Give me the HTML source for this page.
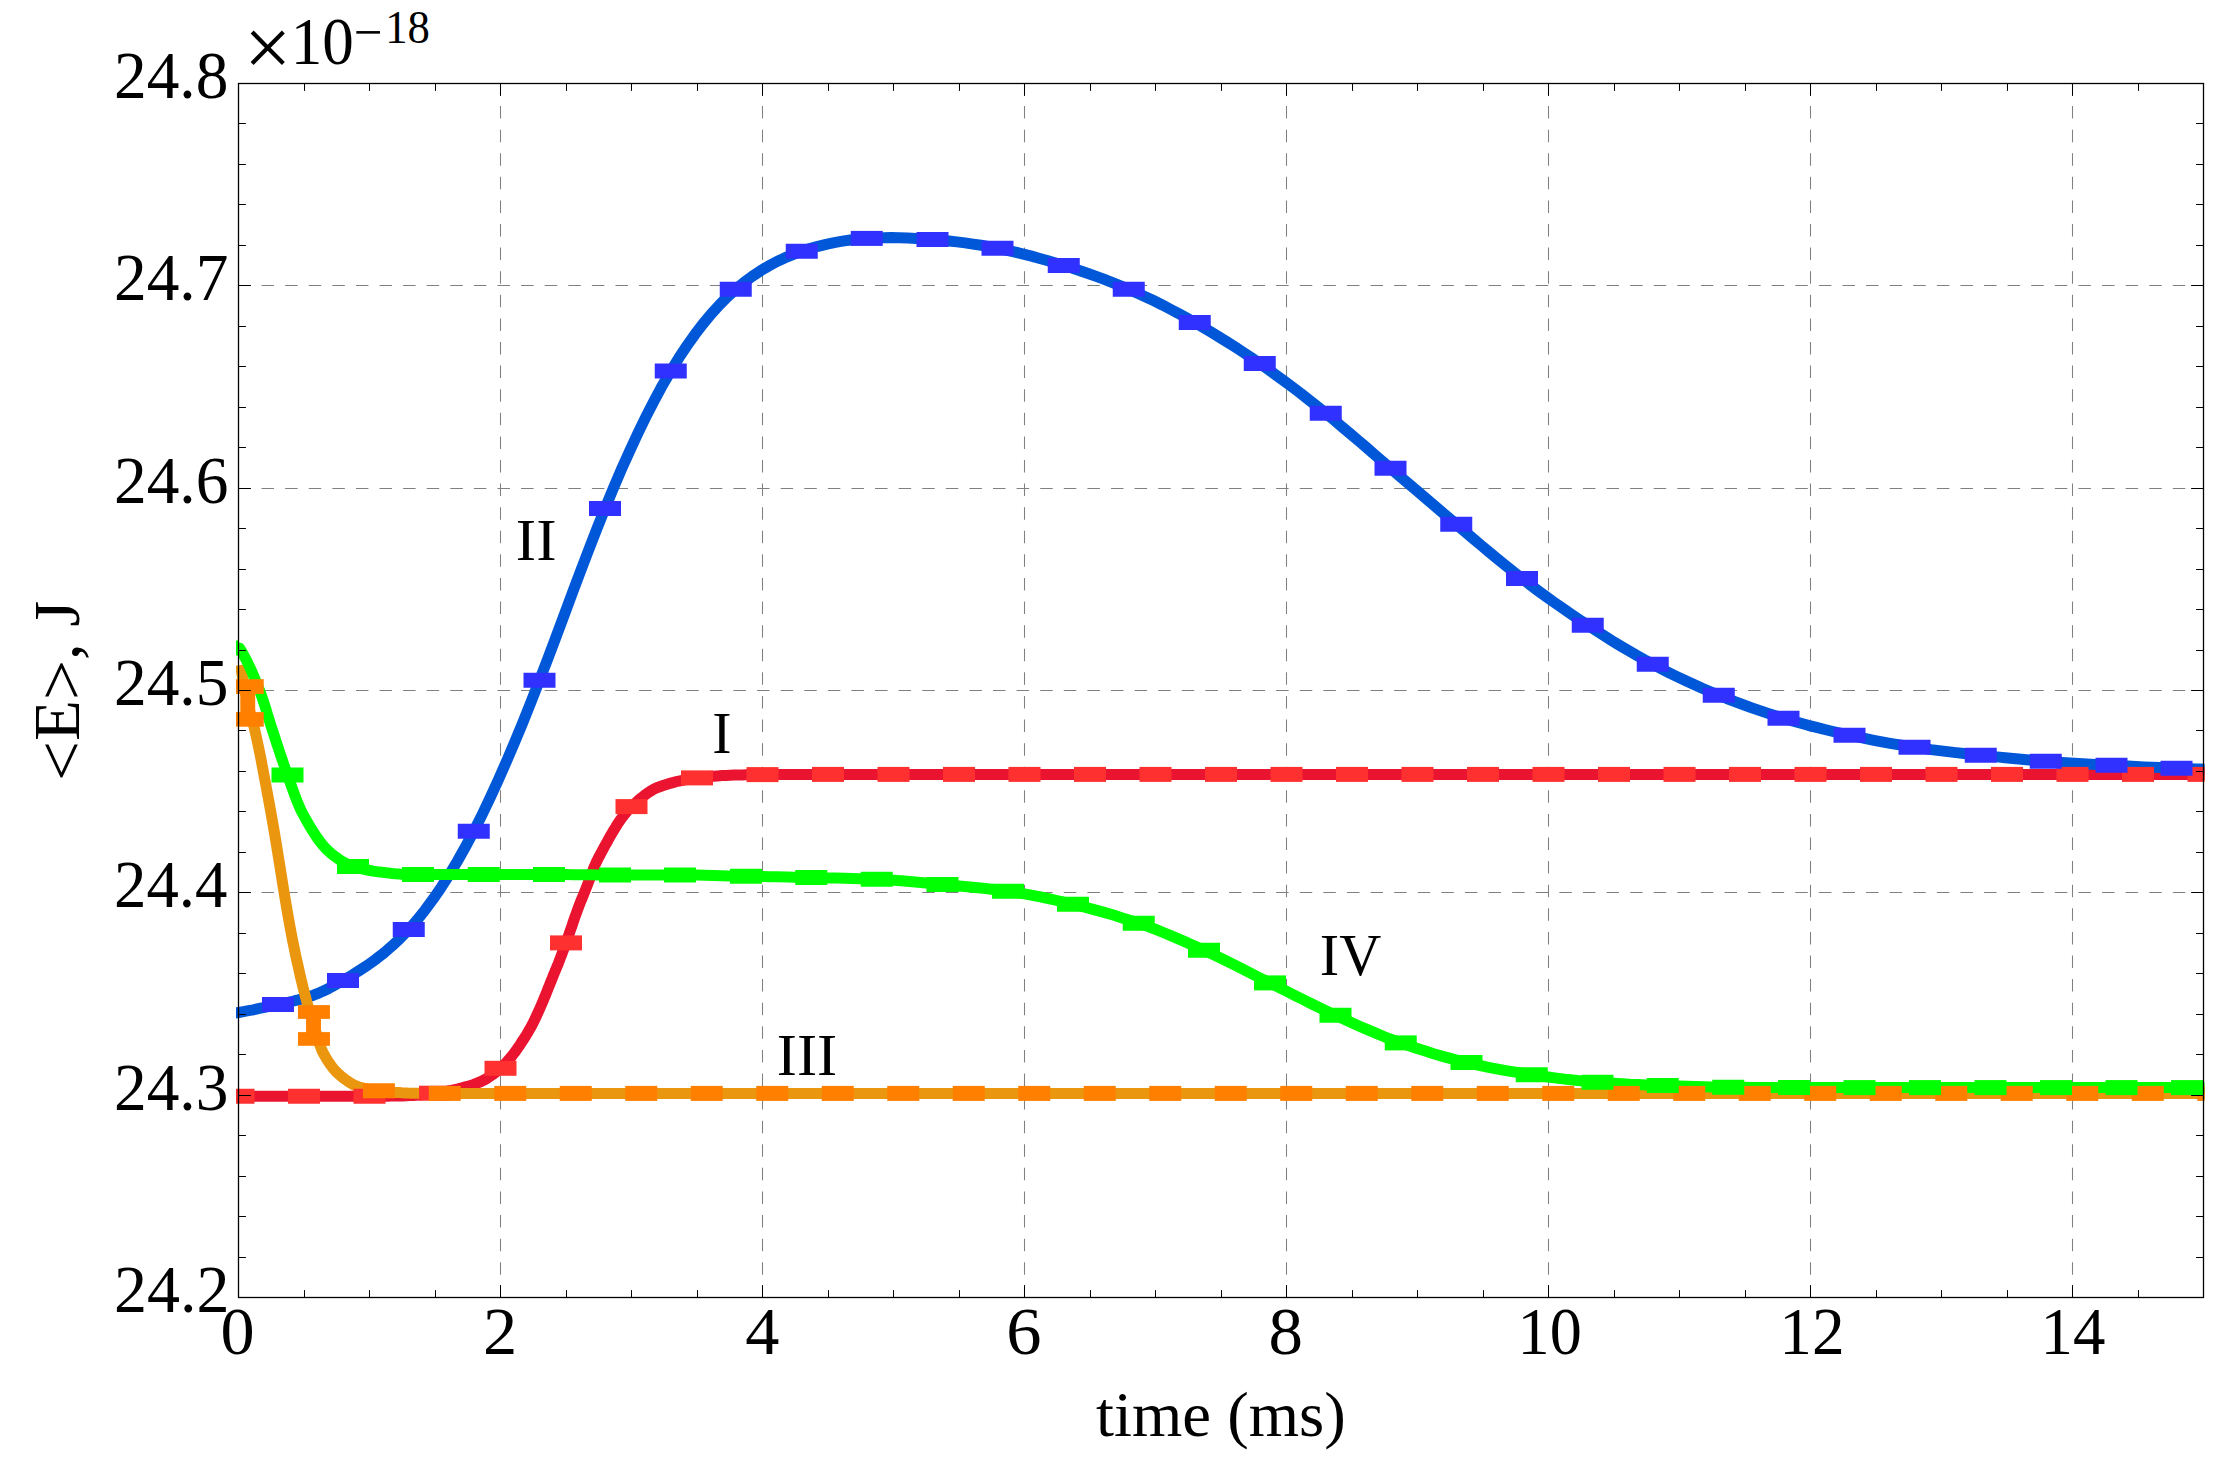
<!DOCTYPE html>
<html lang="en">
<head>
<meta charset="utf-8">
<title>&lt;E&gt;, J versus time (ms)</title>
<style>
html,body{margin:0;padding:0;background:#fff;}
body{width:2230px;height:1469px;overflow:hidden;}
svg{display:block;}
text{font-family:"Liberation Serif",serif;fill:#000;}
.tick{font-size:67px;}
.lab{font-size:56px;}
</style>
</head>
<body>
<svg width="2230" height="1469" viewBox="0 0 2230 1469">
<rect x="0" y="0" width="2230" height="1469" fill="#ffffff"/>
<defs><clipPath id="clip"><rect x="236" y="60" width="1968.6" height="1260"/></clipPath></defs>

<g stroke="#808080" stroke-width="1.05" stroke-dasharray="12.5 11.096" fill="none">
<line x1="500.50" y1="83.5" x2="500.50" y2="1297.5" stroke-dashoffset="1.06"/>
<line x1="762.50" y1="83.5" x2="762.50" y2="1297.5" stroke-dashoffset="1.06"/>
<line x1="1024.50" y1="83.5" x2="1024.50" y2="1297.5" stroke-dashoffset="1.06"/>
<line x1="1286.50" y1="83.5" x2="1286.50" y2="1297.5" stroke-dashoffset="1.06"/>
<line x1="1548.50" y1="83.5" x2="1548.50" y2="1297.5" stroke-dashoffset="1.06"/>
<line x1="1810.50" y1="83.5" x2="1810.50" y2="1297.5" stroke-dashoffset="1.06"/>
<line x1="2072.50" y1="83.5" x2="2072.50" y2="1297.5" stroke-dashoffset="1.06"/>
<line x1="238.5" y1="1095.50" x2="2203.5" y2="1095.50" stroke-dashoffset="0.56"/>
<line x1="238.5" y1="892.50" x2="2203.5" y2="892.50" stroke-dashoffset="0.56"/>
<line x1="238.5" y1="690.50" x2="2203.5" y2="690.50" stroke-dashoffset="0.56"/>
<line x1="238.5" y1="488.50" x2="2203.5" y2="488.50" stroke-dashoffset="0.56"/>
<line x1="238.5" y1="285.50" x2="2203.5" y2="285.50" stroke-dashoffset="0.56"/>
</g>
<g clip-path="url(#clip)" fill="none" stroke-linejoin="round">
<path d="M225.0,1096.2 L234.4,1096.2 L243.8,1096.2 L253.1,1096.2 L262.5,1096.2 L271.9,1096.2 L281.2,1096.2 L290.6,1096.2 L300.0,1096.2 L310.0,1096.2 L320.0,1096.2 L330.0,1096.2 L340.0,1096.2 L350.0,1096.2 L360.0,1096.2 L370.0,1096.2 L380.0,1096.2 L383.8,1096.2 L387.5,1096.2 L391.2,1096.1 L395.0,1096.1 L398.8,1096.0 L402.5,1095.9 L406.2,1095.7 L410.0,1095.6 L413.1,1095.5 L416.2,1095.2 L419.4,1095.0 L422.5,1094.7 L425.6,1094.3 L428.8,1094.0 L431.9,1093.6 L435.0,1093.2 L437.5,1092.9 L440.0,1092.5 L442.5,1092.1 L445.0,1091.6 L447.5,1091.1 L450.0,1090.6 L452.5,1090.1 L455.0,1089.5 L458.1,1088.8 L461.2,1088.0 L464.4,1087.2 L467.5,1086.4 L470.6,1085.4 L473.8,1084.4 L476.9,1083.2 L480.0,1082.0 L482.5,1080.8 L485.1,1079.5 L487.6,1078.0 L490.1,1076.3 L492.7,1074.5 L495.2,1072.6 L497.7,1070.6 L500.2,1068.5 L501.9,1067.0 L503.5,1065.4 L505.2,1063.7 L506.8,1061.9 L508.5,1060.0 L510.1,1058.1 L511.8,1056.1 L513.4,1054.0 L514.5,1052.6 L515.5,1051.2 L516.6,1049.7 L517.7,1048.1 L518.8,1046.6 L519.9,1045.0 L520.9,1043.3 L522.0,1041.7 L523.2,1039.8 L524.5,1037.9 L525.7,1036.0 L526.9,1034.0 L528.1,1031.9 L529.3,1029.8 L530.6,1027.7 L531.8,1025.4 L533.2,1022.7 L534.6,1019.8 L536.0,1016.8 L537.5,1013.7 L538.9,1010.6 L540.3,1007.3 L541.7,1004.1 L543.1,1000.8 L544.3,997.9 L545.6,994.9 L546.8,991.8 L548.0,988.7 L549.3,985.6 L550.5,982.5 L551.8,979.4 L553.0,976.3 L553.8,974.3 L554.6,972.3 L555.5,970.2 L556.3,968.2 L557.1,966.2 L558.0,964.2 L558.8,962.1 L559.6,960.0 L560.4,957.9 L561.2,955.8 L562.0,953.7 L562.8,951.6 L563.6,949.5 L564.4,947.3 L565.2,945.1 L566.0,942.9 L567.4,938.9 L568.9,934.7 L570.3,930.5 L571.8,926.3 L573.2,922.1 L574.6,917.9 L576.1,913.8 L577.5,909.9 L578.7,906.7 L579.9,903.6 L581.1,900.5 L582.4,897.5 L583.6,894.5 L584.8,891.5 L586.0,888.5 L587.2,885.4 L588.2,882.8 L589.2,880.2 L590.2,877.5 L591.2,874.8 L592.1,872.2 L593.1,869.6 L594.1,867.2 L595.1,864.9 L596.4,862.0 L597.7,859.3 L599.0,856.7 L600.4,854.2 L601.7,851.7 L603.0,849.3 L604.3,846.9 L605.6,844.5 L606.8,842.4 L608.0,840.3 L609.1,838.2 L610.3,836.1 L611.5,834.1 L612.6,832.1 L613.8,830.1 L615.0,828.2 L615.7,827.1 L616.3,826.0 L617.0,825.0 L617.6,823.9 L618.3,822.9 L619.0,821.9 L619.6,820.9 L620.3,820.0 L621.7,818.1 L623.1,816.2 L624.5,814.4 L625.9,812.7 L627.3,811.0 L628.7,809.4 L630.1,808.0 L631.5,806.6 L634.9,803.5 L638.2,800.5 L641.5,797.7 L644.9,795.0 L648.2,792.6 L651.6,790.5 L654.9,788.6 L658.3,787.2 L663.1,785.5 L668.0,783.9 L672.8,782.6 L677.6,781.3 L682.5,780.3 L687.3,779.3 L692.2,778.5 L697.0,777.9 L701.1,777.4 L705.2,777.0 L709.4,776.6 L713.5,776.2 L717.6,775.9 L721.8,775.6 L725.9,775.4 L730.0,775.2 L734.1,775.1 L738.1,775.0 L742.2,774.9 L746.2,774.8 L750.3,774.7 L754.4,774.7 L758.4,774.6 L762.5,774.6 L770.9,774.6 L779.4,774.5 L787.8,774.5 L796.2,774.5 L804.7,774.4 L813.1,774.4 L821.6,774.4 L830.0,774.4 L1000.0,774.4 L2215.0,774.4" stroke="#EB1430" stroke-width="11.0"/>
<path d="M225.0,1014.5 L226.7,1014.3 L228.4,1014.1 L230.1,1013.8 L231.8,1013.6 L233.4,1013.3 L235.1,1013.1 L236.8,1012.8 L238.5,1012.5 L243.4,1011.6 L248.4,1010.7 L253.3,1009.8 L258.2,1008.7 L263.2,1007.7 L268.1,1006.6 L273.1,1005.6 L278.0,1004.5 L280.2,1004.0 L282.5,1003.5 L284.8,1003.0 L287.0,1002.5 L289.2,1002.0 L291.5,1001.5 L293.8,1001.0 L296.0,1000.4 L298.5,999.8 L301.0,999.1 L303.5,998.4 L306.0,997.7 L308.5,996.9 L311.0,996.0 L313.5,995.2 L316.0,994.2 L319.4,992.8 L322.8,991.3 L326.1,989.7 L329.5,988.0 L332.9,986.2 L336.2,984.3 L339.6,982.4 L343.0,980.5 L351.2,975.6 L359.4,970.5 L367.7,965.1 L375.9,959.2 L384.1,952.8 L392.3,945.7 L400.5,938.0 L408.8,929.5 L416.9,920.2 L425.0,910.1 L433.1,899.1 L441.2,887.3 L449.4,874.6 L457.5,861.0 L465.6,846.5 L473.8,831.2 L482.0,814.9 L490.2,797.7 L498.4,779.8 L506.6,761.1 L514.8,741.8 L523.1,721.8 L531.3,701.3 L539.5,680.2 L547.7,658.9 L555.9,637.2 L564.1,615.3 L572.2,593.4 L580.4,571.6 L588.6,550.1 L596.8,529.0 L605.0,508.5 L613.2,488.6 L621.4,469.3 L629.7,450.9 L637.9,433.2 L646.1,416.4 L654.3,400.4 L662.5,385.2 L670.8,371.0 L678.9,357.8 L687.0,345.6 L695.1,334.2 L703.2,323.6 L711.4,313.8 L719.5,304.9 L727.6,296.7 L735.8,289.2 L744.0,282.4 L752.2,276.3 L760.5,270.8 L768.8,265.9 L777.0,261.5 L785.2,257.7 L793.5,254.3 L801.8,251.2 L809.9,248.6 L818.0,246.3 L826.1,244.3 L834.2,242.6 L842.4,241.2 L850.5,240.0 L858.6,239.1 L866.8,238.4 L875.0,237.9 L883.2,237.7 L891.4,237.6 L899.6,237.7 L907.8,238.0 L916.1,238.4 L924.3,238.9 L932.5,239.5 L940.6,240.2 L948.8,241.0 L956.9,241.9 L965.0,242.9 L973.1,244.1 L981.2,245.3 L989.4,246.7 L997.5,248.2 L1005.8,250.0 L1014.1,251.8 L1022.3,253.8 L1030.6,255.9 L1038.9,258.2 L1047.2,260.5 L1055.5,263.0 L1063.8,265.5 L1071.9,268.1 L1080.0,270.8 L1088.1,273.5 L1096.2,276.4 L1104.4,279.4 L1112.5,282.6 L1120.6,285.8 L1128.8,289.2 L1137.0,292.9 L1145.2,296.7 L1153.5,300.6 L1161.8,304.7 L1170.0,309.0 L1178.2,313.3 L1186.5,317.9 L1194.8,322.5 L1202.9,327.2 L1211.0,332.0 L1219.1,337.0 L1227.2,342.0 L1235.4,347.2 L1243.5,352.5 L1251.6,357.9 L1259.8,363.5 L1268.0,369.3 L1276.2,375.2 L1284.5,381.2 L1292.8,387.4 L1301.0,393.6 L1309.2,400.1 L1317.5,406.6 L1325.8,413.2 L1333.8,419.9 L1341.9,426.7 L1350.0,433.5 L1358.1,440.4 L1366.2,447.3 L1374.3,454.3 L1382.4,461.3 L1390.5,468.2 L1398.7,475.3 L1406.9,482.3 L1415.2,489.3 L1423.4,496.3 L1431.6,503.3 L1439.8,510.3 L1448.0,517.3 L1456.2,524.2 L1464.5,531.2 L1472.7,538.2 L1480.9,545.1 L1489.1,552.0 L1497.3,558.8 L1505.6,565.5 L1513.8,572.0 L1522.0,578.5 L1530.2,584.8 L1538.4,591.0 L1546.7,597.0 L1554.9,602.9 L1563.1,608.6 L1571.3,614.3 L1579.5,619.8 L1587.8,625.2 L1595.9,630.5 L1604.0,635.7 L1612.1,640.8 L1620.2,645.7 L1628.4,650.5 L1636.5,655.2 L1644.6,659.8 L1652.8,664.2 L1661.0,668.6 L1669.2,672.8 L1677.5,676.9 L1685.8,680.8 L1694.0,684.6 L1702.2,688.3 L1710.5,691.8 L1718.8,695.2 L1726.8,698.5 L1734.9,701.6 L1743.0,704.7 L1751.1,707.6 L1759.2,710.4 L1767.3,713.1 L1775.4,715.7 L1783.5,718.2 L1791.8,720.7 L1800.0,723.0 L1808.2,725.3 L1816.5,727.4 L1824.8,729.5 L1833.0,731.5 L1841.2,733.4 L1849.5,735.2 L1857.6,737.0 L1865.8,738.7 L1873.9,740.3 L1882.0,741.8 L1890.1,743.3 L1898.2,744.7 L1906.4,746.0 L1914.5,747.2 L1922.8,748.4 L1931.1,749.6 L1939.3,750.6 L1947.6,751.6 L1955.9,752.6 L1964.2,753.5 L1972.5,754.4 L1980.8,755.2 L1988.9,756.1 L1997.0,756.9 L2005.1,757.7 L2013.2,758.5 L2021.4,759.2 L2029.5,759.9 L2037.6,760.6 L2045.8,761.2 L2054.0,761.9 L2062.2,762.4 L2070.4,763.0 L2078.6,763.5 L2086.8,763.9 L2095.1,764.4 L2103.3,764.8 L2111.5,765.2 L2119.6,765.7 L2127.8,766.1 L2135.9,766.5 L2144.0,766.9 L2152.1,767.2 L2160.2,767.6 L2168.4,767.9 L2176.5,768.2 L2181.3,768.4 L2186.1,768.6 L2190.9,768.8 L2195.8,768.9 L2200.6,769.1 L2205.4,769.2 L2210.2,769.4 L2215.0,769.5" stroke="#0058D8" stroke-width="11.0"/>
<path d="M240.3,665.0 L241.2,670.3 L242.2,675.4 L243.1,680.4 L244.0,685.2 L245.0,689.9 L245.9,694.5 L246.8,698.8 L247.8,703.0 L248.7,706.8 L249.6,710.4 L250.5,713.8 L251.4,717.1 L252.3,720.3 L253.2,723.7 L254.1,727.2 L255.0,731.0 L257.0,739.9 L259.0,749.3 L261.0,759.2 L262.9,769.5 L264.9,780.0 L266.9,790.8 L268.9,801.6 L270.9,812.5 L273.6,827.8 L276.3,844.0 L279.0,860.7 L281.7,877.6 L284.4,894.3 L287.1,910.5 L289.8,925.8 L292.5,940.0 L294.1,947.7 L295.6,955.1 L297.2,962.3 L298.8,969.3 L300.3,976.1 L301.9,982.6 L303.4,988.9 L305.0,995.0 L306.1,999.1 L307.2,1003.1 L308.3,1006.9 L309.4,1010.7 L310.5,1014.4 L311.6,1018.0 L312.7,1021.5 L313.8,1025.0 L314.9,1028.8 L316.1,1032.6 L317.2,1036.5 L318.4,1040.2 L319.5,1043.8 L320.7,1047.1 L321.8,1050.0 L323.0,1052.5 L325.1,1056.3 L327.2,1059.9 L329.3,1063.1 L331.4,1066.0 L333.4,1068.6 L335.5,1071.0 L337.6,1073.1 L339.7,1075.0 L342.2,1077.1 L344.8,1079.1 L347.3,1080.9 L349.9,1082.6 L352.4,1084.1 L354.9,1085.4 L357.5,1086.4 L360.0,1087.3 L362.3,1087.9 L364.7,1088.5 L367.0,1089.0 L369.4,1089.5 L371.7,1089.9 L374.1,1090.3 L376.4,1090.6 L378.8,1090.9 L380.5,1091.1 L382.2,1091.3 L383.9,1091.5 L385.6,1091.7 L387.3,1091.8 L389.1,1092.0 L390.8,1092.1 L392.5,1092.2 L395.6,1092.4 L398.8,1092.6 L401.9,1092.8 L405.0,1092.9 L408.1,1093.1 L411.2,1093.2 L414.4,1093.3 L417.5,1093.3 L425.3,1093.3 L433.1,1093.3 L440.9,1093.4 L448.8,1093.4 L456.6,1093.4 L464.4,1093.4 L472.2,1093.4 L480.0,1093.4 L2215.0,1093.4" stroke="#EB960F" stroke-width="11.0"/>
<path d="M239.4,648.0 L241.9,652.0 L244.4,656.4 L246.9,661.3 L249.4,666.4 L251.9,671.9 L254.4,677.7 L256.9,683.8 L259.4,690.0 L261.1,694.5 L262.7,699.3 L264.4,704.5 L266.1,709.8 L267.7,715.2 L269.4,720.7 L271.1,726.1 L272.8,731.2 L274.6,736.8 L276.4,742.5 L278.3,748.1 L280.1,753.6 L282.0,759.1 L283.8,764.5 L285.7,769.8 L287.5,775.0 L289.3,780.1 L291.1,785.2 L293.0,790.3 L294.8,795.3 L296.6,800.1 L298.5,804.6 L300.3,808.8 L302.1,812.5 L305.6,819.0 L309.1,825.1 L312.6,830.8 L316.1,836.2 L319.5,841.0 L323.0,845.4 L326.5,849.3 L330.0,852.5 L332.9,854.9 L335.8,857.1 L338.6,859.1 L341.5,861.0 L344.4,862.7 L347.2,864.2 L350.1,865.5 L353.0,866.5 L356.4,867.5 L359.8,868.4 L363.1,869.2 L366.5,869.9 L369.9,870.5 L373.2,871.1 L376.6,871.6 L380.0,872.0 L383.1,872.4 L386.2,872.8 L389.4,873.1 L392.5,873.5 L395.6,873.8 L398.8,874.0 L401.9,874.2 L405.0,874.3 L406.6,874.3 L408.2,874.4 L409.9,874.4 L411.5,874.4 L413.1,874.5 L414.8,874.5 L416.4,874.5 L418.0,874.5 L426.2,874.5 L434.4,874.5 L442.7,874.5 L450.9,874.5 L459.1,874.5 L467.3,874.5 L475.5,874.5 L483.8,874.5 L491.9,874.5 L500.1,874.5 L508.2,874.5 L516.4,874.5 L524.5,874.5 L532.7,874.5 L540.8,874.5 L549.0,874.5 L557.2,874.5 L565.5,874.6 L573.8,874.7 L582.0,874.8 L590.2,874.8 L598.5,874.9 L606.8,875.0 L615.0,875.0 L623.1,875.0 L631.2,875.0 L639.4,875.0 L647.5,875.0 L655.6,875.0 L663.8,875.0 L671.9,875.0 L680.0,875.0 L688.2,875.0 L696.5,875.1 L704.8,875.3 L713.0,875.5 L721.2,875.7 L729.5,875.9 L737.8,876.1 L746.0,876.2 L754.2,876.4 L762.3,876.6 L770.5,876.7 L778.6,876.8 L786.8,877.0 L794.9,877.2 L803.1,877.3 L811.2,877.5 L819.4,877.7 L827.6,877.9 L835.8,878.0 L844.0,878.2 L852.2,878.4 L860.4,878.7 L868.6,878.9 L876.8,879.2 L885.0,879.6 L893.2,880.2 L901.4,880.8 L909.6,881.5 L917.8,882.2 L926.1,883.0 L934.3,883.7 L942.5,884.5 L950.7,885.2 L958.9,886.0 L967.1,886.7 L975.2,887.5 L983.4,888.3 L991.6,889.2 L999.8,890.2 L1008.0,891.2 L1016.1,892.4 L1024.2,893.8 L1032.4,895.3 L1040.5,896.9 L1048.6,898.7 L1056.8,900.5 L1064.9,902.3 L1073.0,904.2 L1081.2,906.2 L1089.4,908.4 L1097.7,910.6 L1105.9,912.9 L1114.1,915.3 L1122.3,917.9 L1130.5,920.5 L1138.8,923.2 L1146.9,926.1 L1155.1,929.2 L1163.2,932.5 L1171.4,935.9 L1179.5,939.4 L1187.7,942.9 L1195.8,946.6 L1204.0,950.2 L1212.2,954.1 L1220.5,958.0 L1228.8,962.1 L1237.0,966.2 L1245.2,970.4 L1253.5,974.6 L1261.8,978.8 L1270.0,982.9 L1278.2,987.0 L1286.4,991.1 L1294.6,995.3 L1302.8,999.4 L1310.9,1003.5 L1319.1,1007.5 L1327.3,1011.4 L1335.5,1015.2 L1343.7,1019.0 L1351.8,1022.7 L1360.0,1026.4 L1368.1,1029.9 L1376.3,1033.4 L1384.4,1036.8 L1392.6,1039.9 L1400.8,1042.9 L1409.0,1045.7 L1417.2,1048.5 L1425.4,1051.1 L1433.6,1053.7 L1441.8,1056.1 L1450.1,1058.4 L1458.3,1060.5 L1466.5,1062.5 L1474.7,1064.3 L1482.8,1066.1 L1491.0,1067.8 L1499.1,1069.3 L1507.3,1070.8 L1515.4,1072.2 L1523.6,1073.5 L1531.8,1074.8 L1540.0,1075.9 L1548.2,1077.0 L1556.4,1078.1 L1564.6,1079.1 L1572.8,1080.0 L1581.1,1080.9 L1589.3,1081.6 L1597.5,1082.2 L1605.7,1082.8 L1613.8,1083.3 L1622.0,1083.7 L1630.1,1084.2 L1638.3,1084.5 L1646.4,1084.9 L1654.6,1085.2 L1662.8,1085.5 L1670.9,1085.8 L1679.1,1086.1 L1687.3,1086.3 L1695.5,1086.6 L1703.7,1086.8 L1711.9,1087.0 L1720.1,1087.2 L1728.2,1087.2 L1736.5,1087.3 L1744.7,1087.3 L1752.9,1087.4 L1761.1,1087.4 L1769.3,1087.4 L1777.6,1087.5 L1785.8,1087.5 L1794.0,1087.5 L1802.2,1087.5 L1810.4,1087.5 L1818.6,1087.6 L1826.8,1087.6 L1834.9,1087.6 L1843.1,1087.6 L1851.3,1087.6 L1859.5,1087.6 L1867.7,1087.6 L1875.9,1087.6 L1884.1,1087.6 L1892.2,1087.6 L1900.4,1087.6 L1908.6,1087.6 L1916.8,1087.6 L1925.0,1087.6 L1933.2,1087.6 L1941.4,1087.6 L1949.6,1087.6 L1957.8,1087.6 L1965.9,1087.6 L1974.1,1087.6 L1982.3,1087.6 L1990.5,1087.6 L1998.7,1087.6 L2006.9,1087.6 L2015.1,1087.6 L2023.2,1087.6 L2031.4,1087.6 L2039.6,1087.6 L2047.8,1087.6 L2056.0,1087.6 L2064.2,1087.6 L2072.4,1087.6 L2080.6,1087.6 L2088.8,1087.6 L2096.9,1087.6 L2105.1,1087.6 L2113.3,1087.6 L2121.5,1087.6 L2129.7,1087.6 L2137.9,1087.6 L2146.1,1087.6 L2154.2,1087.6 L2162.4,1087.6 L2170.6,1087.6 L2178.8,1087.6 L2187.0,1087.6 L2195.2,1087.6 L2203.4,1087.6 L2211.6,1087.6 L2219.8,1087.6 L2227.9,1087.6 L2236.1,1087.6 L2244.3,1087.6 L2252.5,1087.6" stroke="#00FF00" stroke-width="11.0" stroke-linecap="round"/>
<g fill="#FF3030" stroke="none">
<rect x="222.50" y="1088.75" width="32.0" height="15.0"/>
<rect x="288.00" y="1088.75" width="32.0" height="15.0"/>
<rect x="353.50" y="1088.75" width="32.0" height="15.0"/>
<rect x="419.00" y="1085.70" width="32.0" height="15.0"/>
<rect x="484.50" y="1060.79" width="32.0" height="15.0"/>
<rect x="550.00" y="935.40" width="32.0" height="15.0"/>
<rect x="615.50" y="799.10" width="32.0" height="15.0"/>
<rect x="681.00" y="770.40" width="32.0" height="15.0"/>
<rect x="746.50" y="767.10" width="32.0" height="15.0"/>
<rect x="812.00" y="766.90" width="32.0" height="15.0"/>
<rect x="877.50" y="766.90" width="32.0" height="15.0"/>
<rect x="943.00" y="766.90" width="32.0" height="15.0"/>
<rect x="1008.50" y="766.90" width="32.0" height="15.0"/>
<rect x="1074.00" y="766.90" width="32.0" height="15.0"/>
<rect x="1139.50" y="766.90" width="32.0" height="15.0"/>
<rect x="1205.00" y="766.90" width="32.0" height="15.0"/>
<rect x="1270.50" y="766.90" width="32.0" height="15.0"/>
<rect x="1336.00" y="766.90" width="32.0" height="15.0"/>
<rect x="1401.50" y="766.90" width="32.0" height="15.0"/>
<rect x="1467.00" y="766.90" width="32.0" height="15.0"/>
<rect x="1532.50" y="766.90" width="32.0" height="15.0"/>
<rect x="1598.00" y="766.90" width="32.0" height="15.0"/>
<rect x="1663.50" y="766.90" width="32.0" height="15.0"/>
<rect x="1729.00" y="766.90" width="32.0" height="15.0"/>
<rect x="1794.50" y="766.90" width="32.0" height="15.0"/>
<rect x="1860.00" y="766.90" width="32.0" height="15.0"/>
<rect x="1925.50" y="766.90" width="32.0" height="15.0"/>
<rect x="1991.00" y="766.90" width="32.0" height="15.0"/>
<rect x="2056.50" y="766.90" width="32.0" height="15.0"/>
<rect x="2122.00" y="766.90" width="32.0" height="15.0"/>
<rect x="2187.50" y="766.90" width="32.0" height="15.0"/>
</g>
<g fill="#FF8000" stroke="none">
<rect x="231.75" y="679.20" width="32" height="14.70"/>
<rect x="231.75" y="712.10" width="32" height="14.60"/>
<rect x="240.30" y="692.90" width="14.9" height="20.20"/>
<rect x="297.96" y="1005.10" width="32" height="13.80"/>
<rect x="297.96" y="1032.10" width="32" height="13.70"/>
<rect x="306.05" y="1017.90" width="14.9" height="15.20"/>
<rect x="362.90" y="1083.25" width="32.0" height="15.0"/>
<rect x="428.75" y="1085.90" width="32.0" height="15.0"/>
<rect x="494.25" y="1085.90" width="32.0" height="15.0"/>
<rect x="559.75" y="1085.90" width="32.0" height="15.0"/>
<rect x="625.25" y="1085.90" width="32.0" height="15.0"/>
<rect x="690.75" y="1085.90" width="32.0" height="15.0"/>
<rect x="756.25" y="1085.90" width="32.0" height="15.0"/>
<rect x="821.75" y="1085.90" width="32.0" height="15.0"/>
<rect x="887.25" y="1085.90" width="32.0" height="15.0"/>
<rect x="952.75" y="1085.90" width="32.0" height="15.0"/>
<rect x="1018.25" y="1085.90" width="32.0" height="15.0"/>
<rect x="1083.75" y="1085.90" width="32.0" height="15.0"/>
<rect x="1149.25" y="1085.90" width="32.0" height="15.0"/>
<rect x="1214.75" y="1085.90" width="32.0" height="15.0"/>
<rect x="1280.25" y="1085.90" width="32.0" height="15.0"/>
<rect x="1345.75" y="1085.90" width="32.0" height="15.0"/>
<rect x="1411.25" y="1085.90" width="32.0" height="15.0"/>
<rect x="1476.75" y="1085.90" width="32.0" height="15.0"/>
<rect x="1542.25" y="1085.90" width="32.0" height="15.0"/>
<rect x="1607.75" y="1085.90" width="32.0" height="15.0"/>
<rect x="1673.25" y="1085.90" width="32.0" height="15.0"/>
<rect x="1738.75" y="1085.90" width="32.0" height="15.0"/>
<rect x="1804.25" y="1085.90" width="32.0" height="15.0"/>
<rect x="1869.75" y="1085.90" width="32.0" height="15.0"/>
<rect x="1935.25" y="1085.90" width="32.0" height="15.0"/>
<rect x="2000.75" y="1085.90" width="32.0" height="15.0"/>
<rect x="2066.25" y="1085.90" width="32.0" height="15.0"/>
<rect x="2131.75" y="1085.90" width="32.0" height="15.0"/>
<rect x="2197.25" y="1085.90" width="32.0" height="15.0"/>
</g>
<g fill="#00FF00" stroke="none">
<rect x="206.00" y="640.50" width="32.0" height="15.0"/>
<rect x="271.50" y="767.50" width="32.0" height="15.0"/>
<rect x="337.00" y="859.00" width="32.0" height="15.0"/>
<rect x="402.00" y="867.00" width="32.0" height="15.0"/>
<rect x="467.75" y="867.00" width="32.0" height="15.0"/>
<rect x="533.00" y="867.00" width="32.0" height="15.0"/>
<rect x="599.00" y="867.50" width="32.0" height="15.0"/>
<rect x="664.00" y="867.50" width="32.0" height="15.0"/>
<rect x="730.00" y="868.75" width="32.0" height="15.0"/>
<rect x="795.25" y="870.00" width="32.0" height="15.0"/>
<rect x="860.75" y="871.75" width="32.0" height="15.0"/>
<rect x="926.50" y="877.00" width="32.0" height="15.0"/>
<rect x="992.00" y="883.75" width="32.0" height="15.0"/>
<rect x="1057.00" y="896.75" width="32.0" height="15.0"/>
<rect x="1122.75" y="915.75" width="32.0" height="15.0"/>
<rect x="1188.00" y="942.75" width="32.0" height="15.0"/>
<rect x="1254.00" y="975.40" width="32.0" height="15.0"/>
<rect x="1319.50" y="1007.75" width="32.0" height="15.0"/>
<rect x="1384.75" y="1035.40" width="32.0" height="15.0"/>
<rect x="1450.50" y="1055.00" width="32.0" height="15.0"/>
<rect x="1515.75" y="1067.25" width="32.0" height="15.0"/>
<rect x="1581.50" y="1074.75" width="32.0" height="15.0"/>
<rect x="1646.75" y="1078.00" width="32.0" height="15.0"/>
<rect x="1712.25" y="1079.75" width="32.0" height="15.0"/>
<rect x="1778.00" y="1080.00" width="32.0" height="15.0"/>
<rect x="1843.50" y="1080.10" width="32.0" height="15.0"/>
<rect x="1909.00" y="1080.10" width="32.0" height="15.0"/>
<rect x="1974.50" y="1080.10" width="32.0" height="15.0"/>
<rect x="2040.00" y="1080.10" width="32.0" height="15.0"/>
<rect x="2105.50" y="1080.10" width="32.0" height="15.0"/>
<rect x="2171.00" y="1080.10" width="32.0" height="15.0"/>
<rect x="2236.50" y="1080.10" width="32.0" height="15.0"/>
</g>
<g fill="#3030FF" stroke="none">
<rect x="262.00" y="997.00" width="32.0" height="15.0"/>
<rect x="327.00" y="973.00" width="32.0" height="15.0"/>
<rect x="392.75" y="922.00" width="32.0" height="15.0"/>
<rect x="457.75" y="823.75" width="32.0" height="15.0"/>
<rect x="523.50" y="672.75" width="32.0" height="15.0"/>
<rect x="589.00" y="501.00" width="32.0" height="15.0"/>
<rect x="654.75" y="363.50" width="32.0" height="15.0"/>
<rect x="719.75" y="281.75" width="32.0" height="15.0"/>
<rect x="785.75" y="243.75" width="32.0" height="15.0"/>
<rect x="850.75" y="230.90" width="32.0" height="15.0"/>
<rect x="916.50" y="232.00" width="32.0" height="15.0"/>
<rect x="981.50" y="240.75" width="32.0" height="15.0"/>
<rect x="1047.75" y="258.00" width="32.0" height="15.0"/>
<rect x="1112.75" y="281.75" width="32.0" height="15.0"/>
<rect x="1178.75" y="315.00" width="32.0" height="15.0"/>
<rect x="1243.75" y="356.00" width="32.0" height="15.0"/>
<rect x="1309.75" y="405.75" width="32.0" height="15.0"/>
<rect x="1374.50" y="460.75" width="32.0" height="15.0"/>
<rect x="1440.25" y="516.75" width="32.0" height="15.0"/>
<rect x="1506.00" y="571.00" width="32.0" height="15.0"/>
<rect x="1571.75" y="617.75" width="32.0" height="15.0"/>
<rect x="1636.75" y="656.75" width="32.0" height="15.0"/>
<rect x="1702.75" y="687.75" width="32.0" height="15.0"/>
<rect x="1767.50" y="710.75" width="32.0" height="15.0"/>
<rect x="1833.50" y="727.75" width="32.0" height="15.0"/>
<rect x="1898.50" y="739.75" width="32.0" height="15.0"/>
<rect x="1964.75" y="747.75" width="32.0" height="15.0"/>
<rect x="2029.75" y="753.75" width="32.0" height="15.0"/>
<rect x="2095.50" y="757.75" width="32.0" height="15.0"/>
<rect x="2160.50" y="760.75" width="32.0" height="15.0"/>
</g>
</g>
<g stroke="#000" stroke-width="1.3" fill="none">
<rect x="238.5" y="83.5" width="1965.0" height="1214.0"/>
<path d="M238.50,1297.5 v-12.4 M238.50,83.5 v12.4 M304.50,1297.5 v-7.4 M304.50,83.5 v7.4 M369.50,1297.5 v-7.4 M369.50,83.5 v7.4 M435.50,1297.5 v-7.4 M435.50,83.5 v7.4 M500.50,1297.5 v-12.4 M500.50,83.5 v12.4 M566.50,1297.5 v-7.4 M566.50,83.5 v7.4 M631.50,1297.5 v-7.4 M631.50,83.5 v7.4 M697.50,1297.5 v-7.4 M697.50,83.5 v7.4 M762.50,1297.5 v-12.4 M762.50,83.5 v12.4 M828.50,1297.5 v-7.4 M828.50,83.5 v7.4 M893.50,1297.5 v-7.4 M893.50,83.5 v7.4 M959.50,1297.5 v-7.4 M959.50,83.5 v7.4 M1024.50,1297.5 v-12.4 M1024.50,83.5 v12.4 M1090.50,1297.5 v-7.4 M1090.50,83.5 v7.4 M1155.50,1297.5 v-7.4 M1155.50,83.5 v7.4 M1221.50,1297.5 v-7.4 M1221.50,83.5 v7.4 M1286.50,1297.5 v-12.4 M1286.50,83.5 v12.4 M1352.50,1297.5 v-7.4 M1352.50,83.5 v7.4 M1417.50,1297.5 v-7.4 M1417.50,83.5 v7.4 M1483.50,1297.5 v-7.4 M1483.50,83.5 v7.4 M1548.50,1297.5 v-12.4 M1548.50,83.5 v12.4 M1614.50,1297.5 v-7.4 M1614.50,83.5 v7.4 M1679.50,1297.5 v-7.4 M1679.50,83.5 v7.4 M1745.50,1297.5 v-7.4 M1745.50,83.5 v7.4 M1810.50,1297.5 v-12.4 M1810.50,83.5 v12.4 M1876.50,1297.5 v-7.4 M1876.50,83.5 v7.4 M1941.50,1297.5 v-7.4 M1941.50,83.5 v7.4 M2007.50,1297.5 v-7.4 M2007.50,83.5 v7.4 M2072.50,1297.5 v-12.4 M2072.50,83.5 v12.4 M2138.50,1297.5 v-7.4 M2138.50,83.5 v7.4 M2203.50,1297.5 v-7.4 M2203.50,83.5 v7.4 M238.5,1297.50 h12.4 M2203.5,1297.50 h-12.4 M238.5,1257.50 h7.4 M2203.5,1257.50 h-7.4 M238.5,1216.50 h7.4 M2203.5,1216.50 h-7.4 M238.5,1176.50 h7.4 M2203.5,1176.50 h-7.4 M238.5,1135.50 h7.4 M2203.5,1135.50 h-7.4 M238.5,1095.50 h12.4 M2203.5,1095.50 h-12.4 M238.5,1054.50 h7.4 M2203.5,1054.50 h-7.4 M238.5,1014.50 h7.4 M2203.5,1014.50 h-7.4 M238.5,973.50 h7.4 M2203.5,973.50 h-7.4 M238.5,933.50 h7.4 M2203.5,933.50 h-7.4 M238.5,892.50 h12.4 M2203.5,892.50 h-12.4 M238.5,852.50 h7.4 M2203.5,852.50 h-7.4 M238.5,811.50 h7.4 M2203.5,811.50 h-7.4 M238.5,771.50 h7.4 M2203.5,771.50 h-7.4 M238.5,730.50 h7.4 M2203.5,730.50 h-7.4 M238.5,690.50 h12.4 M2203.5,690.50 h-12.4 M238.5,650.50 h7.4 M2203.5,650.50 h-7.4 M238.5,609.50 h7.4 M2203.5,609.50 h-7.4 M238.5,569.50 h7.4 M2203.5,569.50 h-7.4 M238.5,528.50 h7.4 M2203.5,528.50 h-7.4 M238.5,488.50 h12.4 M2203.5,488.50 h-12.4 M238.5,447.50 h7.4 M2203.5,447.50 h-7.4 M238.5,407.50 h7.4 M2203.5,407.50 h-7.4 M238.5,366.50 h7.4 M2203.5,366.50 h-7.4 M238.5,326.50 h7.4 M2203.5,326.50 h-7.4 M238.5,285.50 h12.4 M2203.5,285.50 h-12.4 M238.5,245.50 h7.4 M2203.5,245.50 h-7.4 M238.5,204.50 h7.4 M2203.5,204.50 h-7.4 M238.5,164.50 h7.4 M2203.5,164.50 h-7.4 M238.5,123.50 h7.4 M2203.5,123.50 h-7.4 M238.5,83.50 h12.4 M2203.5,83.50 h-12.4" stroke-width="1"/>
</g>
<g>
<text transform="translate(113.97 98.00) scale(0.9759 1.0068)" font-size="67">24.8</text>
<text transform="translate(113.97 300.33) scale(0.9759 1.0068)" font-size="67">24.7</text>
<text transform="translate(113.97 502.67) scale(0.9759 1.0068)" font-size="67">24.6</text>
<text transform="translate(113.97 705.00) scale(0.9759 1.0068)" font-size="67">24.5</text>
<text transform="translate(114.00 907.33) scale(0.9673 1.0068)" font-size="67">24.4</text>
<text transform="translate(113.97 1109.67) scale(0.9759 1.0068)" font-size="67">24.3</text>
<text transform="translate(113.95 1312.00) scale(0.9847 1.0068)" font-size="67">24.2</text>
<text transform="translate(220.55 1354.10) scale(1.0179 1.0045)" font-size="67">0</text>
<text transform="translate(483.03 1354.10) scale(1.0222 1.0045)" font-size="67">2</text>
<text transform="translate(745.18 1354.10) scale(1.0194 1.0045)" font-size="67">4</text>
<text transform="translate(1006.34 1354.10) scale(1.0536 1.0045)" font-size="67">6</text>
<text transform="translate(1268.41 1354.10) scale(1.0286 1.0045)" font-size="67">8</text>
<text transform="translate(1517.55 1354.10) scale(0.9586 1.0045)" font-size="67">10</text>
<text transform="translate(1779.35 1354.10) scale(0.9754 1.0045)" font-size="67">12</text>
<text transform="translate(2040.49 1354.10) scale(0.9683 1.0045)" font-size="67">14</text>
<text transform="translate(244.00 75.53) scale(1.0000 1.0118)" font-size="84">×</text>
<text transform="translate(290.75 64.00) scale(0.9414 1.0000)" font-size="67">10</text>
<text transform="translate(354.08 49.50) scale(0.9600 1.0000)" font-size="53">−</text>
<text transform="translate(385.20 43.30) scale(0.9512 0.9968)" font-size="47">18</text>
<text transform="translate(78.80 780.99) rotate(-90) scale(1.0287 0.9937)" font-size="65"><tspan font-size="69" dy="5.6">&lt;</tspan><tspan dy="-5.6">E</tspan><tspan font-size="69" dy="5.6">&gt;</tspan><tspan dy="-5.6">, J</tspan></text>
<text transform="translate(1095.97 1436.15) scale(0.9805 0.9450)" font-size="66">time (ms)</text>
<text transform="translate(515.83 560.00) scale(1.0343 1.0051)" font-size="59">II</text>
<text transform="translate(712.14 752.80) scale(0.9812 1.0051)" font-size="59">I</text>
<text transform="translate(776.75 1075.10) scale(1.0255 1.0051)" font-size="59">III</text>
<text transform="translate(1319.82 975.10) scale(0.9883 1.0050)" font-size="59">IV</text>
</g>
</svg>
</body>
</html>
